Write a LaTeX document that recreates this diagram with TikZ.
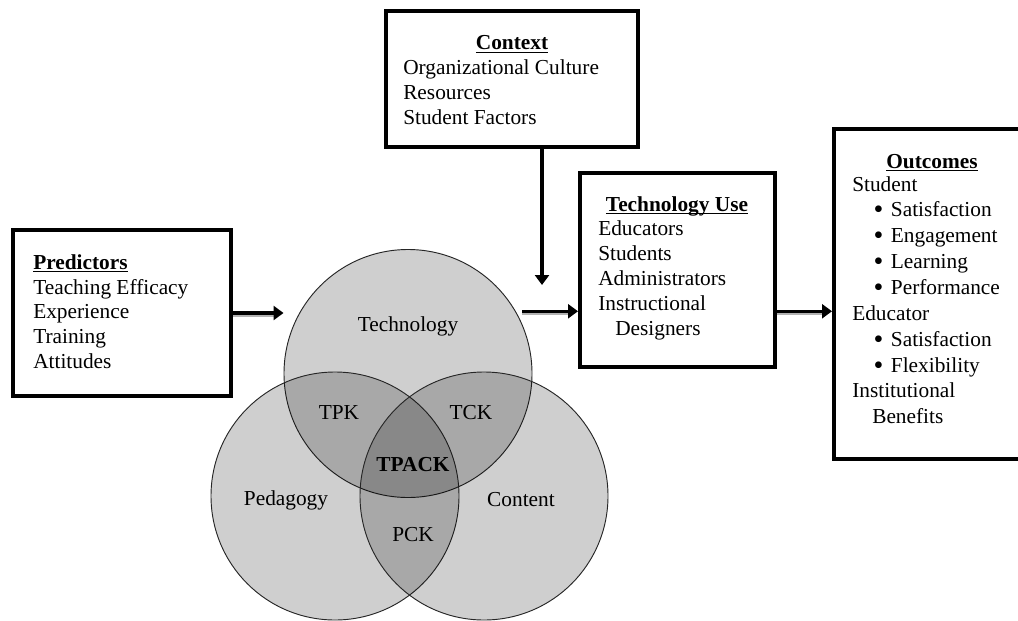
\documentclass[tikz,border=0pt]{standalone}
\usepackage{fontspec}
\setmainfont{Liberation Serif}
\usetikzlibrary{arrows.meta}
\newcommand\myul[1]{\sbox0{#1}\rlap{\rule[-2.4pt]{\wd0}{0.9pt}}\usebox0}
\newcommand\mybul{\hspace*{16pt}\makebox[13pt][l]{\raisebox{-1.5pt}{\fontsize{21}{19}\selectfont\textbullet}}}
\begin{document}
\begin{tikzpicture}[x=0.75pt,y=-0.75pt,
  box/.style={draw, line width=3pt, rectangle, inner sep=0pt, fill=white},
  arr/.style={line width=2.6pt, -{Triangle[length=7.5pt,width=10.5pt]}},
  shade/.style={line width=2pt, black!30},
  venn/.style={circle, draw=black!85, line width=0.7pt, fill=black, fill opacity=0.19, minimum size=186pt, inner sep=0pt},
  txt/.style={font=\fontsize{16}{18.6}\selectfont, inner sep=0pt},
  txtb/.style={font=\fontsize{16}{19.4}\selectfont, inner sep=0pt}]
\useasboundingbox (0,0) rectangle (1018,621);
\fill[white] (0,0) rectangle (1018,621);

% Venn circles
\node[venn] (tech) at (408,373.5) {};
\node[venn] (ped) at (335,496) {};
\node[venn] (cont) at (484,496) {};
\node[txt] (techL) at (408,326) {Technology};
\node[txt] (tpk) at (339,413) {TPK};
\node[txt] (tck) at (471,413) {TCK};
\node[txt] (tpack) at (413,465) {\bfseries TPACK};
\node[txt] (pedL) at (286,500) {Pedagogy};
\node[txt] (contL) at (521,500) {Content};
\node[txt] (pck) at (413,535) {PCK};

% Boxes
\node[box, minimum width=163.5pt, minimum height=124.5pt] (pred) at (122,313) {};
\node[box, minimum width=189pt, minimum height=102pt] (ctx) at (512,79) {};
\node[box, minimum width=146.25pt, minimum height=145.5pt] (tu) at (677.5,270) {};
\node[box, minimum width=147pt, minimum height=247.5pt] (out) at (932,294) {};

% Predictors text
\node[txt, anchor=base west] (predT) at (33,269) {\bfseries\myul{Predictors}};
\node[txt, anchor=base west] (predB) at (33,294) {\begin{tabular}[t]{@{}l@{}}Teaching Efficacy\\Experience\\Training\\Attitudes\end{tabular}};

% Context text
\node[txt, anchor=base] (ctxT) at (512,50) {\bfseries\myul{Context}};
\node[txt, anchor=base west, font=\fontsize{16}{18.75}\selectfont] (ctxB) at (403,74) {\begin{tabular}[t]{@{}l@{}}Organizational Culture\\Resources\\Student Factors\end{tabular}};

% Technology Use text
\node[txt, anchor=base] (tuT) at (677,211) {\bfseries\myul{Technology Use}};
\node[txt, anchor=base west, font=\fontsize{16}{18.75}\selectfont] (tuB) at (598,235) {\begin{tabular}[t]{@{}l@{}}Educators\\Students\\Administrators\\Instructional\\\hspace*{12.75pt}Designers\end{tabular}};

% Outcomes text
\node[txt, anchor=base] (outT) at (932,168) {\bfseries\myul{Outcomes}};
\node[txtb, anchor=base west] (outB) at (852,191) {\begin{tabular}[t]{@{}l@{}}Student\\
\mybul Satisfaction\\
\mybul Engagement\\
\mybul Learning\\
\mybul Performance\\
Educator\\
\mybul Satisfaction\\
\mybul Flexibility\\
Institutional\\
\hspace*{15pt}Benefits\end{tabular}};

% Connectors
\coordinate (a) at ([xshift=5pt]tech.30);
\coordinate (ctxin) at (542,285);
\coordinate (ctxout) at (542,147);
\draw[shade] ([yshift=-2pt]pred.east) -- ([yshift=-2pt,xshift=-7pt]pred.east -| tech.west);
\draw[shade] ([yshift=-2pt]a) -- ([yshift=-2pt,xshift=-7pt]a -| tu.west);
\draw[shade] ([yshift=-2pt]tu.east |- a) -- ([yshift=-2pt,xshift=-7pt]out.west |- a);
\draw[arr] (pred.east) -- (pred.east -| tech.west);
\draw[arr] (ctxout) -- (ctxin);
\draw[arr] (a) -- (a -| tu.west);
\draw[arr] (tu.east |- a) -- (out.west |- a);
\end{tikzpicture}
\end{document}
